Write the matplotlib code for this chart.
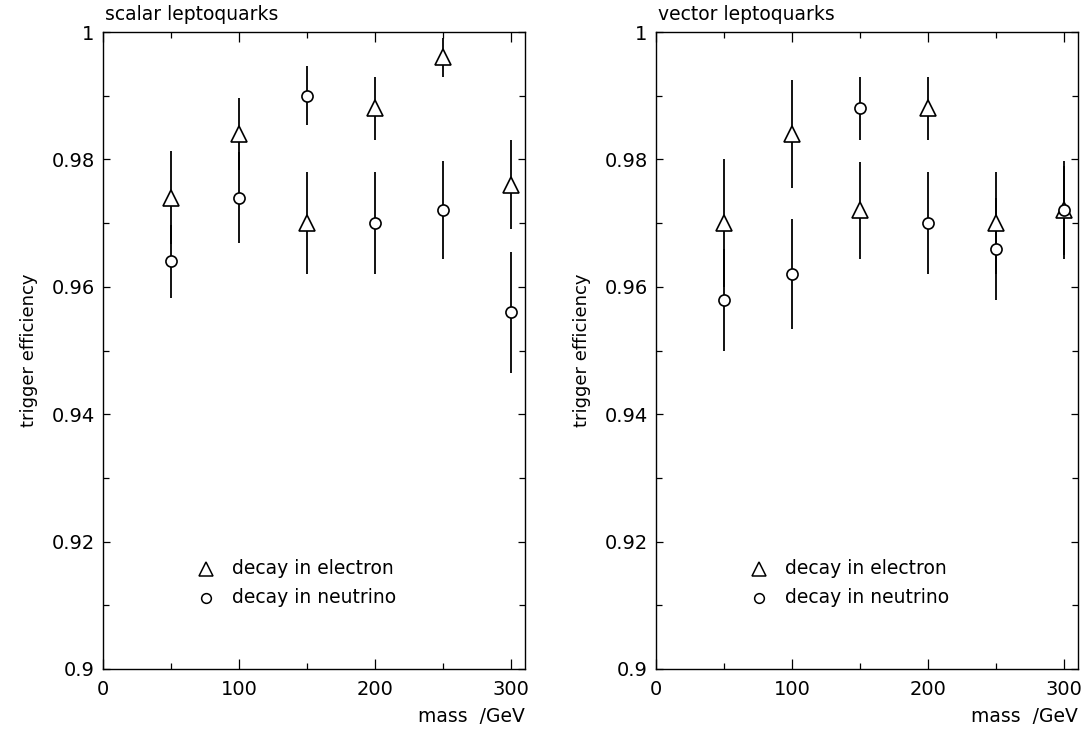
import matplotlib
matplotlib.use("Agg")
import matplotlib.pyplot as plt
from matplotlib.ticker import MultipleLocator, FixedFormatter, FixedLocator

mass = [50, 100, 150, 200, 250, 300]

# scalar leptoquarks
scalar_e = [0.974, 0.984, 0.970, 0.988, 0.996, 0.976]
scalar_e_err = [0.0073, 0.0057, 0.008, 0.005, 0.003, 0.007]
scalar_nu = [0.964, 0.974, 0.990, 0.970, 0.972, 0.956]
scalar_nu_err = [0.0057, 0.0072, 0.0046, 0.008, 0.0077, 0.0095]

# vector leptoquarks
vector_e = [0.970, 0.984, 0.972, 0.988, 0.970, 0.972]
vector_e_err = [0.010, 0.0085, 0.0076, 0.005, 0.008, 0.0077]
vector_nu = [0.958, 0.962, 0.988, 0.970, 0.966, 0.972]
vector_nu_err = [0.008, 0.0087, 0.005, 0.008, 0.008, 0.007]

titles = ["scalar leptoquarks", "vector leptoquarks"]
legend_labels = ["decay in electron", "decay in neutrino"]
yticks = [0.9, 0.92, 0.94, 0.96, 0.98, 1.0]
ytick_labels = ["0.9", "0.92", "0.94", "0.96", "0.98", "1"]
xticks = [0, 100, 200, 300]

plt.rcParams['font.family'] = ['DejaVu Sans']
W, H = 1087, 731
fig = plt.figure(figsize=(W / 100, H / 100), dpi=100)

panels = [
    (103, scalar_e, scalar_e_err, scalar_nu, scalar_nu_err),
    (656, vector_e, vector_e_err, vector_nu, vector_nu_err),
]
for i, (x0, e, ee, nu, nue) in enumerate(panels):
    ax = fig.add_axes([x0 / W, (H - 669) / H, 422 / W, 637 / H])
    ax.errorbar(mass, e, yerr=ee, fmt='^', color='black', mfc='white',
                mec='black', ms=11, mew=1.2, elinewidth=1.3, capsize=0, zorder=3)
    ax.errorbar(mass, nu, yerr=nue, fmt='o', color='black', mfc='white',
                mec='black', ms=8, mew=1.2, elinewidth=1.3, capsize=0, zorder=3)
    ax.set_xlim(0, 310)
    ax.set_ylim(0.9, 1.0)
    ax.xaxis.set_major_locator(FixedLocator(xticks))
    ax.xaxis.set_minor_locator(MultipleLocator(50))
    ax.yaxis.set_major_locator(FixedLocator(yticks))
    ax.yaxis.set_major_formatter(FixedFormatter(ytick_labels))
    ax.yaxis.set_minor_locator(MultipleLocator(0.01))
    ax.tick_params(which='both', direction='in', top=True, right=True,
                   labelsize=14, width=0.9)
    ax.tick_params(which='major', length=7)
    ax.tick_params(which='minor', length=4)
    ax.tick_params(axis='y', which='major', length=5, pad=6)
    ax.tick_params(axis='x', which='major', pad=8)
    for s in ax.spines.values():
        s.set_linewidth(1.0)
    ax.set_ylabel("trigger efficiency", fontsize=13, labelpad=10)
    ax.text(0.005, 1.012, titles[i], transform=ax.transAxes, fontsize=13.5,
            ha='left', va='bottom')
    ax.text(1.0, -0.074, "mass  /GeV", transform=ax.transAxes, fontsize=13.5,
            ha='right', va='center')
    # legend
    lx = 0.245
    ax.plot([lx], [0.157], marker='^', ms=10, mfc='white', mec='black',
            mew=1.1, transform=ax.transAxes, clip_on=False)
    ax.plot([lx], [0.112], marker='o', ms=7, mfc='white', mec='black',
            mew=1.1, transform=ax.transAxes, clip_on=False)
    ax.text(lx + 0.06, 0.157, legend_labels[0], transform=ax.transAxes,
            fontsize=13.5, va='center', ha='left')
    ax.text(lx + 0.06, 0.112, legend_labels[1], transform=ax.transAxes,
            fontsize=13.5, va='center', ha='left')

fig.savefig("out.png", dpi=100)
